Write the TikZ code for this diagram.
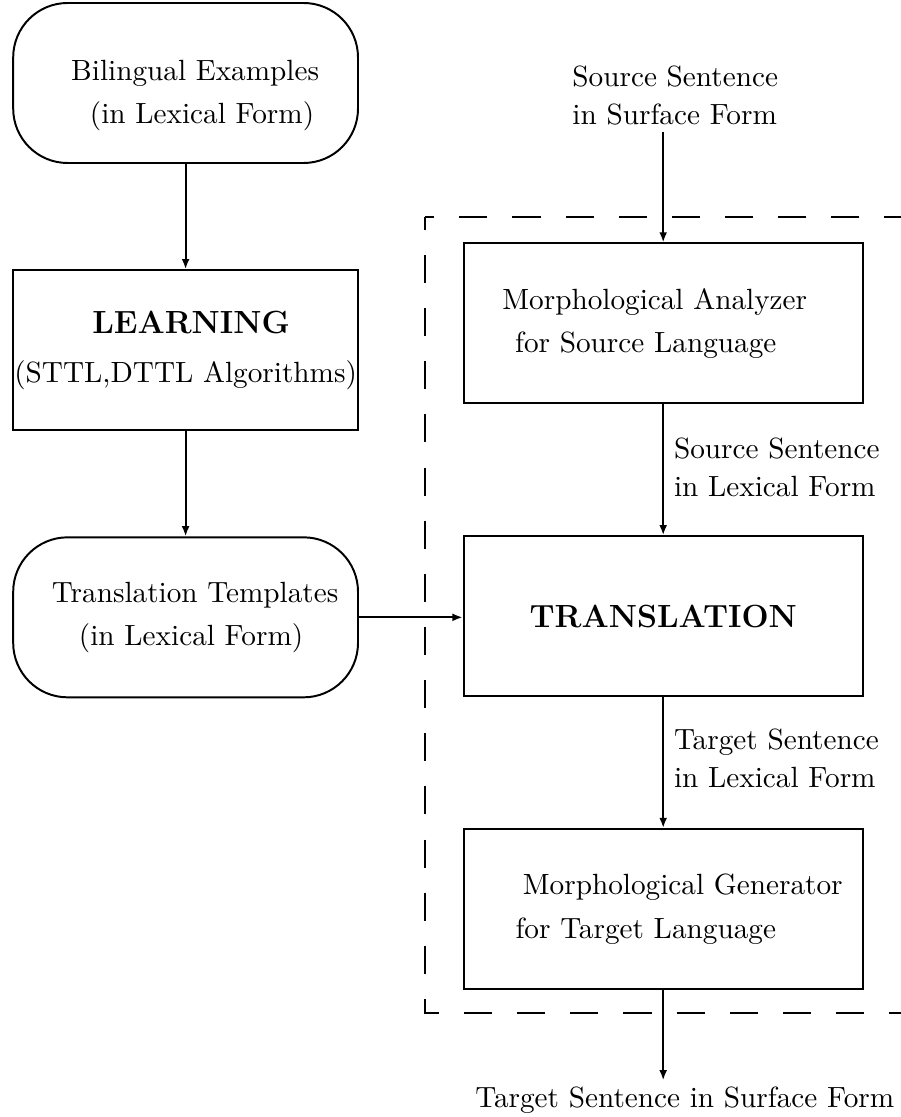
\documentclass[tikz,border=0pt]{standalone}
\usetikzlibrary{positioning, arrows.meta}

\begin{document}
\begin{tikzpicture}[
    node distance=1.315cm,
    line width=0.7pt,
    every node/.style={font=\fontsize{10.4}{12.5}\selectfont},
    roundbox/.style={rectangle, draw, rounded corners=0.68cm, minimum width=4.31cm, minimum height=2cm, align=center},
    block/.style={rectangle, draw, minimum width=4.31cm, minimum height=2cm, inner xsep=0pt, align=center},
    wideblock/.style={rectangle, draw, minimum width=4.99cm, minimum height=2cm, align=center},
    arrow/.style={-{Latex[length=3.6pt,width=2.8pt]}},
    dashframe/.style={dash pattern=on 10pt off 8.9pt, dash phase=5.4pt},
    note/.style={align=left, inner sep=2pt}
]
\useasboundingbox (0,0) rectangle (11.25,13.9625);

% Left column
\node[roundbox] (bilingual) at (2.32,12.925) {\rule{0pt}{16pt}\hspace*{6.8pt}Bilingual Examples\\[3pt] \hspace*{11.7pt}(in Lexical Form)};
\node[block, below=of bilingual] (learning) {\hspace*{3.9pt}{\fontsize{11.4}{14}\selectfont\bfseries LEARNING}\\[5pt] (STTL,DTTL Algorithms)};
\node[roundbox, below=of learning] (templates) {\hspace*{6.8pt}Translation Templates\\[3pt] \hspace*{3.9pt}(in Lexical Form)};

% Right column
\node[wideblock] (analyzer) at (8.29,9.92) {\hspace*{-6pt}Morphological Analyzer\\[3pt] \hspace*{-12.4pt}for Source Language};
\node[wideblock, below=1.635cm of analyzer] (translation) {{\fontsize{11.4}{14}\selectfont\bfseries TRANSLATION}};
\node[wideblock, below=1.635cm of translation] (generator) {\hspace*{13.9pt}Morphological Generator\\[3pt] \hspace*{-12.4pt}for Target Language};

% Inputs and outputs
\node[note] (srcin) at (8.44,12.77) {Source Sentence\\[1pt] in Surface Form};
\node[note] (tgtout) at (8.56,0.21) {Target Sentence in Surface Form};

% Arrows
\draw[arrow] (bilingual) -- (learning);
\draw[arrow] (learning) -- (templates);
\draw[arrow] (templates.east) -- (templates.east -| translation.west);
\draw[arrow] (analyzer.north |- srcin.south) -- (analyzer.north);
\draw[arrow] (analyzer) -- node[note, right, xshift=1.5pt, yshift=1pt] (srclex) {Source Sentence\\[1pt] in Lexical Form} (translation);
\draw[arrow] (translation) -- node[note, right, xshift=1.5pt, yshift=1.5pt] (tgtlex) {Target Sentence\\[1pt] in Lexical Form} (generator);
\draw[arrow] (generator) -- (generator.south |- tgtout.north);

% Translation system frame
\draw[dashframe] (5.3125,11.25) rectangle (11.6,1.3);

\end{tikzpicture}
\end{document}
